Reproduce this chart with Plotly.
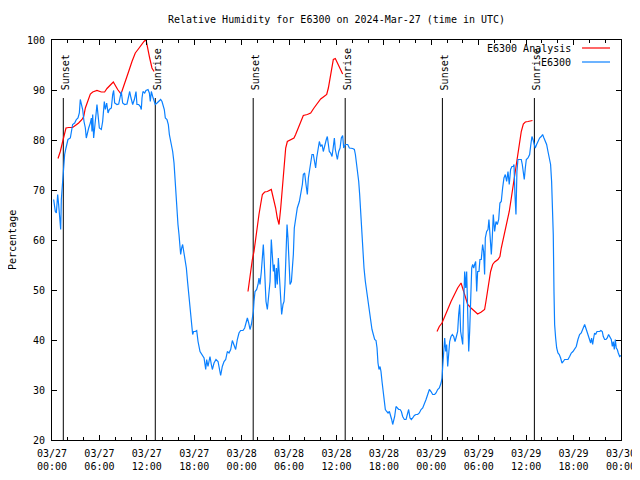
import pandas as pd
import plotly.graph_objects as go

BASE = pd.Timestamp("2024-03-27 00:00")

# Observed relative humidity (E6300): hours since 03/27 00:00 UTC, percent
obs_hours = [0.21, 0.42, 0.55, 0.72, 0.84, 1.01, 1.10, 1.18, 1.35, 1.48, 1.60, 1.77, 2.02, 2.32, 2.45, 2.61, 2.87, 3.08, 3.29, 3.46, 3.58, 3.71, 3.88, 4.05, 4.22, 4.34, 4.47, 4.64, 4.85, 4.98, 5.06, 5.15, 5.27, 5.40, 5.53, 5.69, 5.82, 5.99, 6.24, 6.41, 6.62, 6.75, 6.92, 7.09, 7.25, 7.51, 7.68, 7.80, 7.93, 8.22, 8.44, 8.65, 8.77, 8.94, 9.19, 9.49, 9.70, 9.83, 10.00, 10.21, 10.42, 10.63, 10.75, 10.97, 11.18, 11.30, 11.39, 11.51, 11.73, 11.89, 12.15, 12.32, 12.44, 12.57, 12.74, 12.86, 13.07, 13.29, 13.50, 13.75, 13.92, 14.04, 14.21, 14.34, 14.55, 14.72, 14.85, 15.06, 15.27, 15.44, 15.61, 15.77, 15.94, 16.07, 16.20, 16.28, 16.41, 16.53, 16.70, 16.87, 17.00, 17.17, 17.29, 17.42, 17.55, 17.67, 17.80, 17.92, 18.14,
             18.31, 18.48, 18.73, 19.02, 19.24, 19.45, 19.57, 19.74, 19.99, 20.16, 20.29, 20.50, 20.75, 21.01, 21.18, 21.34, 21.55, 21.77, 21.98, 22.19, 22.40, 22.61, 22.82, 23.03, 23.24, 23.45, 23.66, 23.87, 24.17, 24.38, 24.59, 24.72, 24.89, 25.06, 25.23, 25.35, 25.48, 25.56, 25.69, 25.90, 26.07, 26.19, 26.32, 26.49, 26.62, 26.74, 26.83, 26.95, 27.08, 27.25, 27.42, 27.59, 27.75, 27.88, 28.01, 28.13, 28.26, 28.39, 28.51, 28.64, 28.81, 28.93, 29.06, 29.23, 29.36, 29.48, 29.61, 29.74, 29.86, 29.99, 30.12, 30.29, 30.41, 30.54, 30.66, 30.83, 31.04, 31.30, 31.47, 31.68, 31.80, 31.97, 32.14, 32.31, 32.44, 32.56, 32.73, 32.90, 33.07, 33.24, 33.36, 33.49, 33.66, 33.83, 34.00, 34.17, 34.33, 34.50, 34.71, 34.84, 34.97, 35.09, 35.26, 35.43, 35.60, 35.73, 35.85,
             36.11, 36.28, 36.45, 36.61, 36.78, 36.91, 37.12, 37.42, 37.63, 38.05, 38.26, 38.39, 38.55, 38.68, 38.81, 38.93, 39.06, 39.19, 39.31, 39.48, 39.65, 39.82, 39.99, 40.16, 40.33, 40.49, 40.66, 40.83, 41.00, 41.13, 41.25, 41.38, 41.51, 41.63, 41.76, 41.89, 42.01, 42.18, 42.35, 42.52, 42.69, 42.81, 42.98, 43.11, 43.24, 43.36, 43.53, 43.70, 43.87, 44.04, 44.21, 44.37, 44.59, 44.80, 44.97, 45.13, 45.30, 45.47, 45.64, 45.85, 46.06, 46.27, 46.48, 46.70, 46.91, 47.12, 47.33, 47.54, 47.75, 47.96, 48.17, 48.42, 48.59, 48.80, 49.01, 49.23, 49.35, 49.44, 49.56, 49.69, 49.82, 49.94, 50.07, 50.20, 50.32, 50.49, 50.66, 50.83, 51.00, 51.17, 51.33, 51.46, 51.59, 51.71, 51.84, 51.97, 52.09, 52.22, 52.35, 52.47, 52.60, 52.73, 52.85, 52.98, 53.11, 53.23, 53.36, 53.48, 53.61, 53.74, 53.86,
             54.03, 54.15, 54.32, 54.49, 54.62, 54.74, 54.83, 55.00, 55.17, 55.29, 55.42, 55.59, 55.71, 55.84, 56.01, 56.18, 56.35, 56.52, 56.68, 56.85, 57.02, 57.19, 57.36, 57.53, 57.70, 57.86, 58.03, 58.20, 58.37, 58.46, 58.58, 58.71, 58.83, 58.96, 59.17, 59.38, 59.51, 59.64, 59.76, 59.89, 60.02, 60.23, 60.44, 60.56, 60.73, 60.86, 60.99, 61.15, 61.32, 61.49, 61.70, 61.91, 62.08, 62.25, 62.42, 62.59, 62.76, 62.93, 63.09, 63.22, 63.35, 63.43, 63.52, 63.60, 63.73, 63.86, 64.02, 64.19, 64.36, 64.53, 64.70, 64.87, 65.08, 65.29, 65.50, 65.71, 65.92, 66.13, 66.34, 66.55, 66.76, 66.97, 67.19, 67.40, 67.61, 67.82, 68.03, 68.16, 68.28, 68.41, 68.54, 68.66, 68.79, 68.96, 69.13, 69.30, 69.46, 69.63, 69.76, 69.93, 70.10, 70.26, 70.43, 70.60, 70.77, 70.90, 71.02, 71.15, 71.28, 71.40, 71.53, 71.66, 71.83, 72.00]
obs_rh = [68.1, 65.7, 65.4, 69.1, 67.1, 64.1, 62.1, 68.1, 71.4, 74.1, 77.1, 78.4, 80.1, 80.4, 81.7, 83.1, 83.4, 84.1, 84.4, 85.4, 88.1, 87.4, 86.1, 83.7, 82.4, 80.4, 81.4, 82.4, 83.4, 84.4, 81.7, 85.1, 80.4, 82.7, 83.7, 87.1, 85.1, 82.4, 82.1, 83.7, 87.7, 86.1, 87.4, 85.4, 86.1, 86.4, 89.1, 89.9, 87.4, 87.1, 87.2, 88.7, 89.7, 87.4, 87.1, 87.2, 88.7, 89.7, 88.4, 87.1, 88.1, 89.7, 87.1, 87.1, 86.7, 86.1, 88.4, 89.7, 89.4, 89.9, 90.1, 89.4, 87.7, 89.7, 88.7, 88.1, 87.1, 87.4, 87.7, 88.1, 87.7, 87.1, 86.1, 84.4, 84.1, 83.1, 81.1, 79.4, 77.7, 75.4, 70.4, 66.4, 63.1, 61.1, 59.1, 57.1, 58.4, 59.1, 57.4, 56.1, 54.4, 51.4, 49.1, 47.1, 44.4, 42.4, 41.1, 41.7, 41.7,
          41.9, 39.7, 37.7, 37.1, 36.4, 34.1, 36.1, 34.7, 36.7, 35.1, 34.1, 35.4, 36.1, 35.7, 33.7, 32.9, 34.7, 35.7, 36.1, 37.7, 37.4, 38.1, 39.9, 39.1, 38.1, 40.1, 41.4, 41.9, 41.9, 42.4, 43.7, 44.4, 43.4, 42.1, 43.1, 44.4, 45.7, 47.7, 49.7, 50.1, 51.1, 52.4, 51.1, 53.7, 57.1, 59.1, 56.4, 51.1, 47.7, 46.1, 48.4, 51.7, 60.1, 57.1, 53.7, 55.1, 50.4, 54.4, 51.1, 56.4, 52.4, 47.7, 45.1, 47.1, 47.7, 51.1, 56.4, 63.1, 60.4, 56.4, 51.1, 51.7, 53.7, 57.1, 62.4, 64.4, 66.4, 67.7, 69.1, 71.1, 73.1, 73.4, 71.1, 69.1, 72.4, 73.7, 75.7, 77.1, 77.1, 75.4, 74.4, 76.4, 78.4, 79.7, 78.7, 79.1, 77.7, 79.1, 80.1, 80.7, 78.4, 77.7, 77.4, 76.7, 78.7, 80.4, 78.1,
          76.1, 77.7, 78.4, 80.4, 80.9, 78.4, 79.1, 79.1, 78.4, 78.3, 78.1, 77.1, 75.4, 73.7, 71.7, 69.1, 65.7, 61.7, 57.7, 54.4, 51.7, 49.7, 47.7, 45.7, 43.7, 42.1, 41.1, 40.1, 39.9, 38.4, 35.4, 34.1, 34.7, 33.7, 31.7, 29.7, 27.7, 26.1, 25.7, 25.4, 25.7, 25.1, 24.1, 23.1, 23.7, 24.7, 26.7, 26.4, 26.1, 26.1, 25.7, 24.7, 24.1, 24.1, 25.1, 26.1, 24.4, 24.1, 24.4, 24.9, 25.1, 25.1, 25.4, 26.1, 26.4, 27.1, 28.1, 29.1, 30.1, 29.7, 29.1, 29.1, 29.4, 30.1, 30.4, 31.4, 32.4, 34.7, 37.7, 40.4, 37.7, 39.1, 34.7, 38.4, 39.7, 40.7, 41.1, 40.7, 39.7, 40.7, 41.7, 45.1, 47.1, 41.7, 39.7, 39.1, 47.1, 53.7, 50.4, 53.7, 45.7, 37.7, 41.7, 50.4, 54.4, 55.1, 54.4, 55.1, 55.7, 49.7, 53.7,
          53.7, 56.1, 56.1, 59.1, 57.7, 53.1, 60.4, 61.7, 62.1, 64.1, 61.1, 57.1, 60.4, 65.1, 61.7, 63.7, 63.1, 64.1, 67.4, 67.7, 70.4, 72.4, 73.1, 71.7, 73.7, 71.1, 74.1, 74.7, 74.7, 75.1, 69.1, 65.1, 73.7, 76.1, 76.1, 76.1, 75.1, 73.1, 72.1, 74.4, 76.1, 76.4, 77.1, 78.7, 80.7, 80.1, 79.4, 78.4, 79.1, 79.7, 80.4, 80.7, 81.1, 80.4, 79.7, 79.1, 77.7, 76.4, 75.1, 71.7, 65.7, 61.1, 49.7, 43.1, 40.4, 38.4, 37.4, 37.1, 36.4, 35.4, 35.7, 36.1, 36.1, 36.1, 36.7, 37.4, 37.7, 38.1, 38.7, 40.1, 41.1, 41.4, 42.4, 43.1, 42.1, 41.1, 40.4, 39.4, 40.4, 39.1, 40.4, 41.4, 41.1, 41.7, 41.7, 41.7, 41.9, 41.7, 40.7, 40.1, 40.1, 40.4, 41.1, 40.4, 40.1, 38.7, 39.7, 38.1, 40.1, 38.4, 38.1, 37.4, 36.7, 36.9]

# Analysis relative humidity (three nightly segments, None = gap)
ana_hours = [0.76, 1.05, 1.35, 1.60, 1.77, 2.11, 2.61, 2.95, 3.37, 3.80, 4.01, 4.22, 4.55, 4.85, 5.15, 5.69, 6.24, 6.66, 6.96, 7.25, 7.51, 7.76, 8.01, 8.31, 8.73, 8.94, 9.28, 9.70, 10.12, 10.54, 10.88, 11.30, 11.64, 11.89, 12.15, 12.36, 12.65, 12.91, None,
             24.80, 24.97, 25.14, 25.35, 25.56, 25.77, 25.98, 26.19, 26.40, 26.62, 26.91, 27.25, 27.75, 28.01, 28.30, 28.51, 28.73, 28.94, 29.15, 29.36, 29.57, 29.78, 30.20, 30.62, 30.83, 31.13, 31.47, 31.80, 32.31, 32.73, 33.15, 33.58, 34.00, 34.42, 34.76, 34.97, 35.18, 35.39, 35.60, 35.85, 36.11, 36.32, 36.78, None,
             48.72, 49.01, 49.35, 49.65, 50.07, 50.49, 50.91, 51.33, 51.76, 52.18, 52.60, 53.02, 53.44, 53.86, 54.32, 54.74, 54.91, 55.08, 55.33, 55.50, 55.76, 56.01, 56.43, 56.68, 56.85, 57.11, 57.36, 57.61, 57.86, 58.12, 58.37, 58.62, 58.88, 59.13, 59.38, 59.64, 59.89, 60.23, 60.80]
ana_rh = [76.3, 77.7, 79.7, 81.4, 82.4, 82.5, 82.5, 82.9, 83.4, 84.1, 84.7, 86.4, 88.1, 89.2, 89.6, 89.9, 89.6, 89.6, 90.3, 90.9, 91.2, 91.6, 90.9, 90.1, 89.2, 90.1, 91.7, 93.7, 95.7, 97.4, 98.1, 99.1, 99.7, 100.1, 98.4, 96.4, 94.4, 93.7, None,
          49.7, 51.7, 54.4, 56.1, 57.7, 60.4, 62.7, 65.1, 67.1, 69.1, 69.6, 69.7, 70.1, 68.4, 66.4, 64.4, 63.1, 66.4, 70.4, 75.1, 78.4, 79.7, 80.1, 80.4, 81.1, 82.4, 83.7, 84.9, 85.1, 85.4, 86.4, 87.4, 88.2, 88.7, 89.1, 90.4, 92.4, 94.4, 96.1, 96.3, 95.4, 94.9, 93.2, None,
          41.7, 42.7, 43.4, 44.4, 46.1, 47.7, 49.1, 50.4, 51.4, 49.4, 47.1, 46.4, 45.7, 45.2, 45.6, 46.1, 47.7, 49.7, 51.7, 53.7, 55.1, 55.6, 56.1, 56.7, 58.4, 60.4, 62.1, 63.7, 65.7, 68.4, 71.1, 73.7, 76.4, 79.1, 81.7, 83.2, 83.6, 83.7, 83.9]

sunset_hours = [1.43, 25.46, 49.40]
sunrise_hours = [13.07, 37.10, 61.04]
sun_line_top = 88.4
sun_label_base = 89.6

title_text = "Relative Humidity for E6300 on 2024-Mar-27 (time in UTC)"
y_title = "Percentage"
legend_names = ["E6300 Analysis", "E6300"]
RED = "#ff0000"
BLUE = "#0a80ff"
FONT = "DejaVu Sans Mono"
FS = 10

# page has an 8px body margin: size the figure so the plot lands where the reference has it
FIG_W, FIG_H = 632, 472


def to_time(hours):
    return [None if h is None else BASE + pd.Timedelta(hours=h) for h in hours]


fig = go.Figure()

# sunrise / sunset vertical markers
sx, sy = [], []
for h in sunset_hours + sunrise_hours:
    sx += [h, h, None]
    sy += [20, sun_line_top, None]
fig.add_trace(go.Scatter(x=to_time(sx), y=sy, mode="lines",
                         line=dict(color="black", width=1), hoverinfo="skip",
                         showlegend=False))

fig.add_trace(go.Scatter(x=to_time(ana_hours), y=ana_rh, mode="lines",
                         line=dict(color=RED, width=1.2), connectgaps=False,
                         name=legend_names[0], showlegend=False))
fig.add_trace(go.Scatter(x=to_time(obs_hours), y=obs_rh, mode="lines",
                         line=dict(color=BLUE, width=1.2),
                         name=legend_names[1], showlegend=False))

annotations = []
for label, hours in (("Sunset", sunset_hours), ("Sunrise", sunrise_hours)):
    for h in hours:
        annotations.append(dict(x=BASE + pd.Timedelta(hours=h), y=sun_label_base,
                                xref="x", yref="y", text=label, textangle=-90,
                                showarrow=False, xanchor="center", yanchor="bottom",
                                xshift=2, font=dict(family=FONT, size=FS, color="black")))

# legend (gnuplot style: text then sample line)
leg_rows = [(0.98, RED), (0.945, BLUE)]
shapes = []
for name, (py, col) in zip(legend_names, leg_rows):
    annotations.append(dict(x=0.9156, y=py, xref="paper", yref="paper", text=name,
                            showarrow=False, xanchor="right", yanchor="middle",
                            font=dict(family=FONT, size=FS, color="black")))
    shapes.append(dict(type="line", xref="paper", yref="paper", x0=0.9315, x1=0.9807,
                       y0=py, y1=py, line=dict(color=col, width=1.2)))

annotations.append(dict(x=-0.0703, y=0.5, xref="paper", yref="paper", text=y_title,
                        textangle=-90, showarrow=False, xanchor="center", yanchor="middle",
                        font=dict(family=FONT, size=FS, color="black")))

fig.update_layout(
    width=FIG_W, height=FIG_H,
    margin=dict(l=44, r=19, t=32, b=40, autoexpand=False),
    paper_bgcolor="white", plot_bgcolor="white",
    font=dict(family=FONT, size=FS, color="black"),
    title=dict(text=title_text, x=0.5, xref="paper", y=1 - 11 / FIG_H, yanchor="middle",
               font=dict(family=FONT, size=FS, color="black")),
    annotations=annotations, shapes=shapes, showlegend=False,
)
fig.update_xaxes(
    type="date", range=[BASE, BASE + pd.Timedelta(hours=72)], automargin=False,
    tick0=BASE, dtick=6 * 3600 * 1000, tickformat="%m/%d<br>%H:%M",
    ticks="inside", ticklen=5, tickcolor="black", tickwidth=1, ticklabelstandoff=4,
    minor=dict(dtick=2 * 3600 * 1000, ticks="inside", ticklen=3, tickcolor="black"),
    showline=True, linecolor="black", linewidth=1, mirror="ticks",
    showgrid=False, zeroline=False, tickfont=dict(family=FONT, size=FS, color="black"),
)
fig.update_yaxes(
    range=[20, 100], dtick=10, tick0=0, automargin=False,
    ticks="inside", ticklen=5, tickcolor="black", tickwidth=1, ticklabelstandoff=4,
    showline=True, linecolor="black", linewidth=1, mirror="ticks",
    showgrid=False, zeroline=False, tickfont=dict(family=FONT, size=FS, color="black"),
)

fig.write_html("out.html")
